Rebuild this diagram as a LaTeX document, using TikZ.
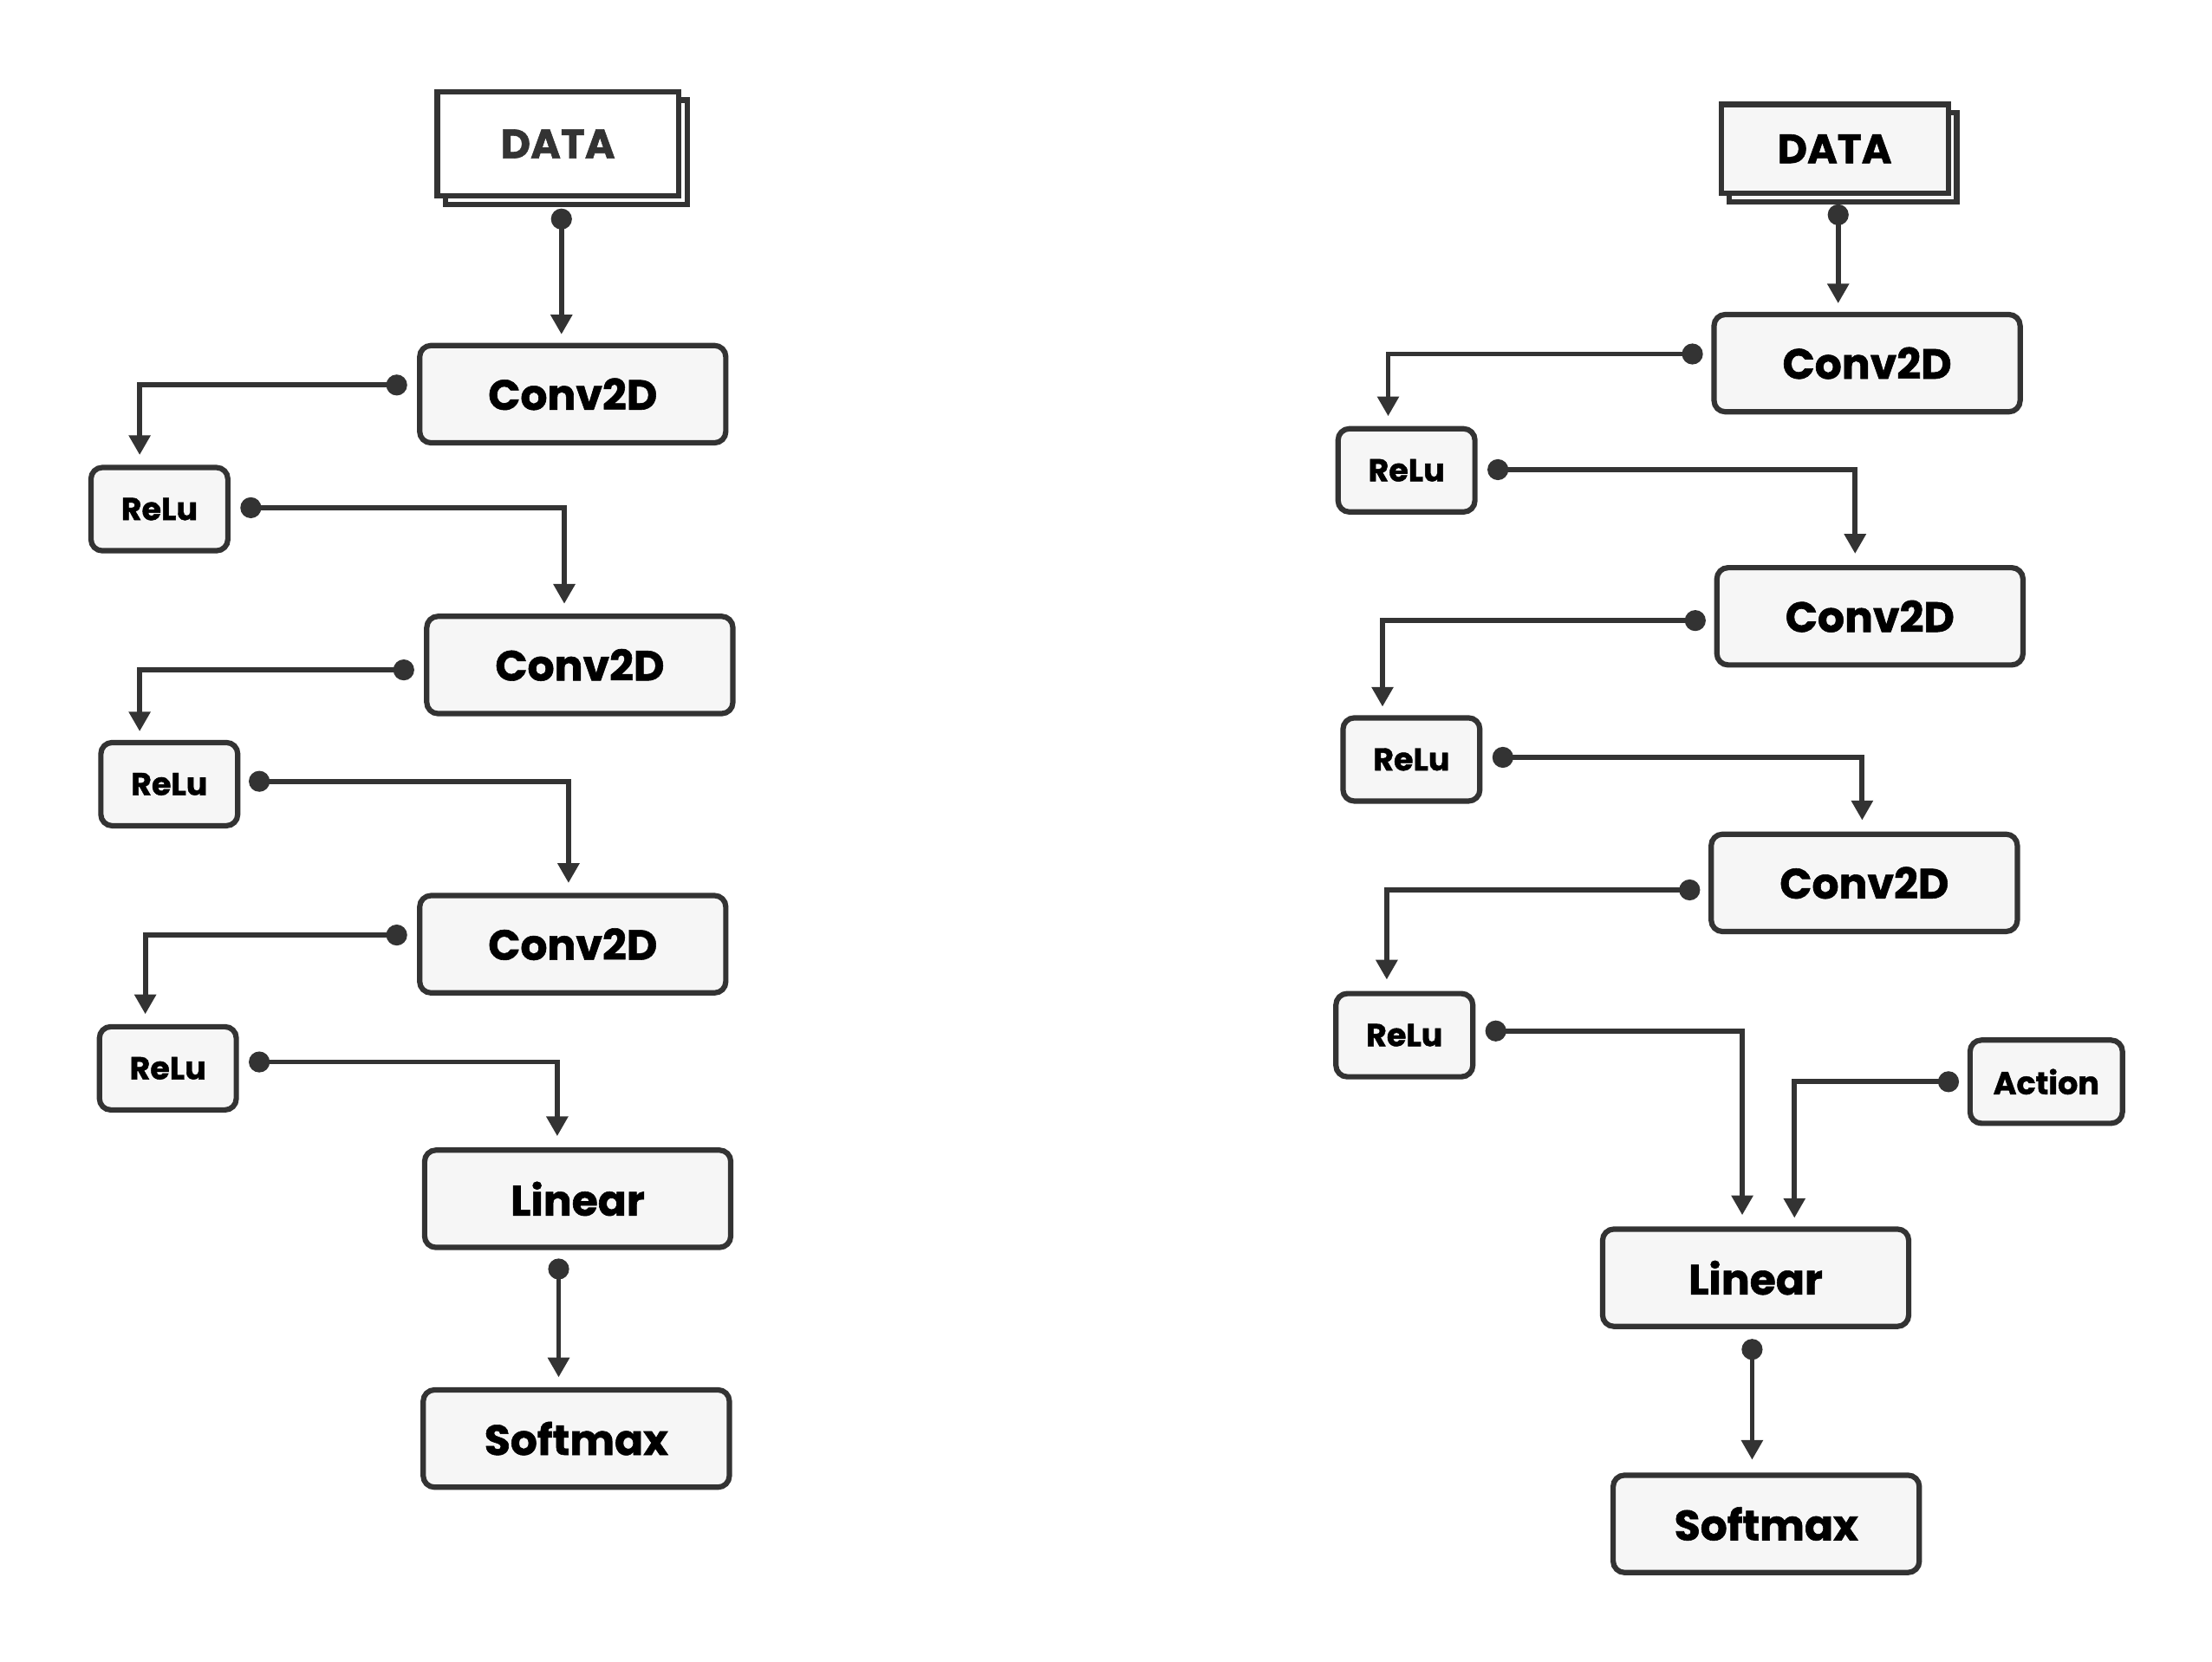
\documentclass[tikz,border=0pt]{standalone}
\usepackage{fontspec}
\setmainfont{Poppins}[BoldFeatures={FakeBold=1.2}]
\usetikzlibrary{arrows.meta,shadows}
\definecolor{ln}{HTML}{333333}
\definecolor{bx}{HTML}{F6F6F6}
\begin{document}
\begin{tikzpicture}[x={(0.5pt,0pt)},y={(0pt,-0.5pt)},
  base/.style={draw=ln,line width=1.9pt,fill=bx,rounded corners=4pt,inner sep=0pt,text=black},
  blk/.style={base,minimum width=108.5pt,minimum height=34.5pt,font=\fontsize{15}{18}\selectfont\bfseries},
  sml/.style={base,minimum width=48.5pt,minimum height=29.5pt,font=\fontsize{11.2}{14}\selectfont\bfseries},
  datab/.style={draw=ln,line width=1.9pt,inner sep=0pt,font=\fontsize{14.5}{17}\selectfont\bfseries,
    copy shadow={shadow xshift=3pt,shadow yshift=-3pt}},
  conn/.style={draw=ln,line width=1.8pt,{Circle[length=7.4pt]}-{Triangle[length=7pt,width=7.4pt]}}]
\useasboundingbox (0,0) rectangle (1568,1178);
% ---------------- left network ----------------
\node[datab,fill=white,text=ln,minimum width=85.5pt,minimum height=37pt] (dL) at (395.5,102) {DATA};
\node[blk] (c1) at (406,279.5) {Conv2D};
\node[sml] (r1) at (113,361) {ReLu};
\node[blk] (c2) at (411,471.5) {Conv2D};
\node[sml] (r2) at (120,556) {ReLu};
\node[blk] (c3) at (406,669.5) {Conv2D};
\node[sml] (r3) at (119,757.5) {ReLu};
\node[blk] (l) at (409.5,850) {Linear};
\node[blk] (s) at (408.5,1020) {Softmax};

\draw[conn] ([shift={(2.5,7)}]dL.south) -- ([shift={(-8,-6)}]c1.north);
\draw[conn] ([shift={(-7,-6.5)}]c1.west) -| ([shift={(-14,-7)}]r1.north);
\draw[conn] ([shift={(7,-1)}]r1.east) -| ([shift={(-11,-7)}]c2.north);
\draw[conn] ([shift={(-7,3.5)}]c2.west) -| ([shift={(-21,-6)}]r2.north);
\draw[conn] ([shift={(6,-2)}]r2.east) -| ([shift={(-3,-7)}]c3.north);
\draw[conn] ([shift={(-7,-6.5)}]c3.west) -| ([shift={(-16,-7)}]r3.north);
\draw[conn] ([shift={(7,-4.5)}]r3.east) -| ([shift={(-14.5,-8)}]l.north);
\draw[conn] ([shift={(-13.5,6)}]l.south) -- ([shift={(-12.5,-7)}]s.north);
% ---------------- right network ----------------
\node[datab,fill=bx,text=black,minimum width=80.5pt,minimum height=31.5pt] (dR) at (1300.5,105.5) {DATA};
\node[blk] (C1) at (1323.5,257.5) {Conv2D};
\node[sml] (R1) at (997,333.5) {ReLu};
\node[blk] (C2) at (1325.5,437) {Conv2D};
\node[sml] (R2) at (1000.5,538.5) {ReLu};
\node[blk] (C3) at (1321.5,626) {Conv2D};
\node[sml] (R3) at (995.5,734) {ReLu};
\node[sml,minimum width=54pt] (A) at (1450.5,767) {Action};
\node[blk] (L) at (1244.5,906) {Linear};
\node[blk] (S) at (1252,1080.5) {Softmax};

\draw[conn] ([shift={(2.5,6)}]dR.south) -- ([shift={(-20.5,-6)}]C1.north);
\draw[conn] ([shift={(-6,-6.5)}]C1.west) -| ([shift={(-13,-7)}]R1.north);
\draw[conn] ([shift={(7,-0.5)}]R1.east) -| ([shift={(-10.5,-8)}]C2.north);
\draw[conn] ([shift={(-6,3)}]C2.west) -| ([shift={(-20.5,-6)}]R2.north);
\draw[conn] ([shift={(7,-1.5)}]R2.east) -| ([shift={(-1.5,-8)}]C3.north);
\draw[conn] ([shift={(-6,5)}]C3.west) -| ([shift={(-12.5,-8)}]R3.north);
\draw[conn] ([shift={(7,-3)}]R3.east) -| ([shift={(-9.5,-8)}]L.north);
\draw[conn] ([shift={(-6,0)}]A.west) -| ([shift={(27.5,-6)}]L.north);
\draw[conn] ([shift={(-2.5,7)}]L.south) -- ([shift={(-2.5,-9)}]S.north -| L.south);
\end{tikzpicture}
\end{document}
